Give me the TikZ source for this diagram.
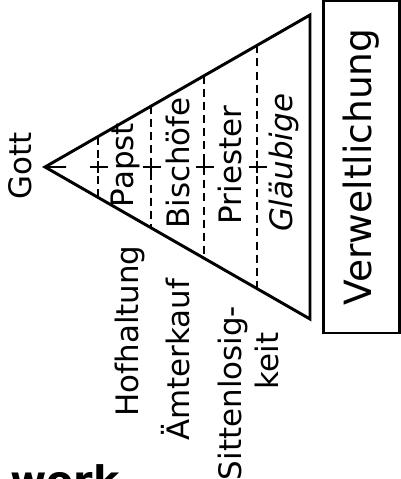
\documentclass[tikz,border=0pt]{standalone}
\usepackage{fontspec}
\setmainfont{DejaVu Sans}
\usepackage{tikz}
\usetikzlibrary{calc}

\begin{document}
\begin{tikzpicture}[
		word/.style={rotate=90, font=\fontsize{22}{26}\selectfont},
		divider/.style={dash pattern=on 5.7pt off 3.6pt, line width=1.4pt}
	]
				\useasboundingbox (0, 0) rectangle (10.025, 11.975);
				
				%Triangle
				\coordinate (apex) at (1.125, 7.8);
				\coordinate (top) at (7.75, 11.6);
				\coordinate (bottom) at (7.75, 4.0);
				\coordinate (mid) at (7.75, 7.8);
				\draw[line width=2.1pt] (apex) -- (top) -- (bottom) -- cycle;
				
				%Lines
				\draw[line width=1.4pt] (apex) -- ($(apex)!0.08!(mid)$);
				\foreach \t in {0.2, 0.4, 0.6, 0.8} {
					\draw[divider] ($(apex)!\t!(top)$) -- ($(apex)!\t!(bottom)$);
					\draw[line width=1.4pt] ($(apex)!\t!(mid) + (-0.2, 0)$) -- ($(apex)!\t!(mid) + (0.25, 0)$);
					\draw[line width=1.4pt] ($(apex)!\t!(mid) + (0, -0.15)$) -- ($(apex)!\t!(mid) + (0, 0.15)$);
				}
				
				%Levels
				\node[word] (gott) at (0.5, 7.825) {Gott};
				\node[word] (papst) at (3.125, 7.85) {Papst};
				\node[word] (bischoefe) at (4.45, 7.9) {Bischöfe};
				\node[word] (priester) at (5.75, 7.85) {Priester};
				\node[word, font=\fontsize{22}{26}\selectfont\itshape] (glaeubige) at (7.1, 7.9) {Gläubige};
				
				%Abuses
				\node[word] (hofhaltung) at (3.25, 3.7) {Hofhaltung};
				\node[word] (aemterkauf) at (4.4, 2.975) {Ämterkauf};
				\node[word] (sitten) at (5.825, 2.15) {Sittenlosig-};
				\node[word] (keit) at (6.675, 2.95) {keit};
				
				%Box
				\node[draw, line width=1.8pt, rotate=90, minimum width=8.3cm, minimum height=1.9cm, font=\fontsize{26.7}{32}\selectfont] (welt) at (9.04, 7.8) {Verweltlichung};
				
				%Bottom
				\node[anchor=base west, inner sep=0, font=\fontsize{28}{34}\selectfont\bfseries] (work) at (0.25, -0.39) {work};
			\end{tikzpicture}
\end{document}
